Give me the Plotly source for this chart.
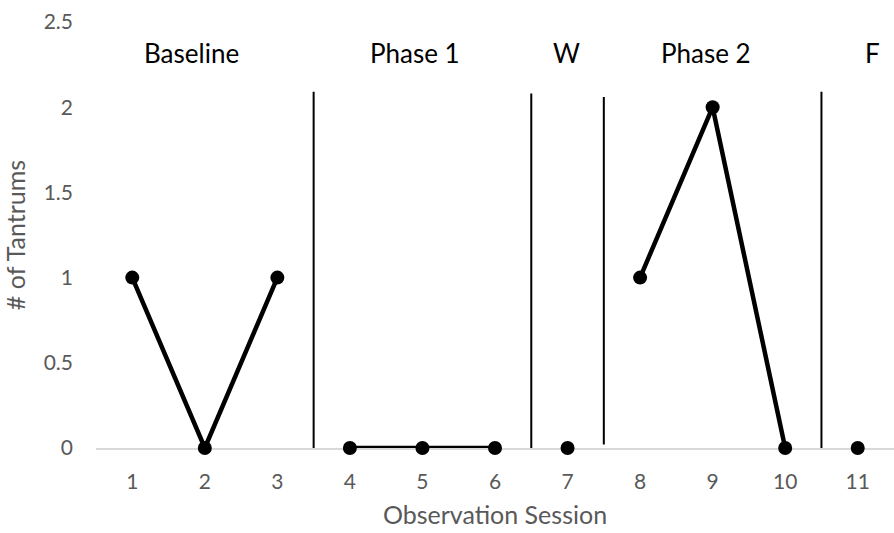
import plotly.graph_objects as go

# Tantrum counts per observation session, grouped by phase
phases = ["Baseline", "Phase 1", "W", "Phase 2", "F"]
phase_sessions = [[1, 2, 3], [4, 5, 6], [7], [8, 9, 10], [11]]
phase_tantrums = [[1, 0, 1], [0, 0, 0], [0], [1, 2, 0], [0]]
phase_label_x = [1.82, 4.9, 6.98, 8.91, 11.2]
phase_label_y = 2.32

# Phase change lines (x position, bottom, top)
change_x = [3.5, 6.5, 7.5, 10.5]
change_y0 = [0.0, -0.01, 0.02, -0.005]
change_y1 = [2.09, 2.08, 2.06, 2.09]

x_ticks = list(range(1, 12))
y_ticks = [0, 0.5, 1, 1.5, 2, 2.5]

font_family = "Lato, Open Sans, sans-serif"
fig = go.Figure()

for xs, ys in zip(phase_sessions, phase_tantrums):
    fig.add_trace(go.Scatter(
        x=xs, y=ys, mode="lines+markers",
        line=dict(color="black", width=4.5),
        marker=dict(color="black", size=14),
        showlegend=False, cliponaxis=False,
    ))

for cx, y0, y1 in zip(change_x, change_y0, change_y1):
    fig.add_shape(type="line", xref="x", yref="y", x0=cx, x1=cx, y0=y0, y1=y1,
                  line=dict(color="black", width=2))

for name, lx in zip(phases, phase_label_x):
    fig.add_annotation(x=lx, y=phase_label_y, text=name, showarrow=False,
                       font=dict(size=26, color="black", family=font_family))

fig.update_layout(
    width=894, height=533,
    margin=dict(l=96, r=0, t=22, b=85),
    plot_bgcolor="white", paper_bgcolor="white",
    font=dict(family=font_family, color="#595959", size=21),
)
fig.update_xaxes(
    range=[0.5, 11.5], tickvals=x_ticks, ticktext=[str(v) for v in x_ticks],
    showgrid=False, zeroline=False, showline=True, linecolor="#d9d9d9", linewidth=2,
    ticks="", ticklabelstandoff=14, layer="below traces",
    title=dict(text="Observation Session", font=dict(size=25, color="#595959"), standoff=14),
)
fig.update_yaxes(
    range=[0, 2.5], tickvals=y_ticks, ticktext=["0", "0.5", "1", "1.5", "2", "2.5"],
    showgrid=False, zeroline=False, showline=False, ticks="", ticklabelstandoff=22,
    layer="below traces",
    title=dict(text="# of Tantrums", font=dict(size=25, color="#595959"), standoff=10),
)

fig.write_html("out.html")
